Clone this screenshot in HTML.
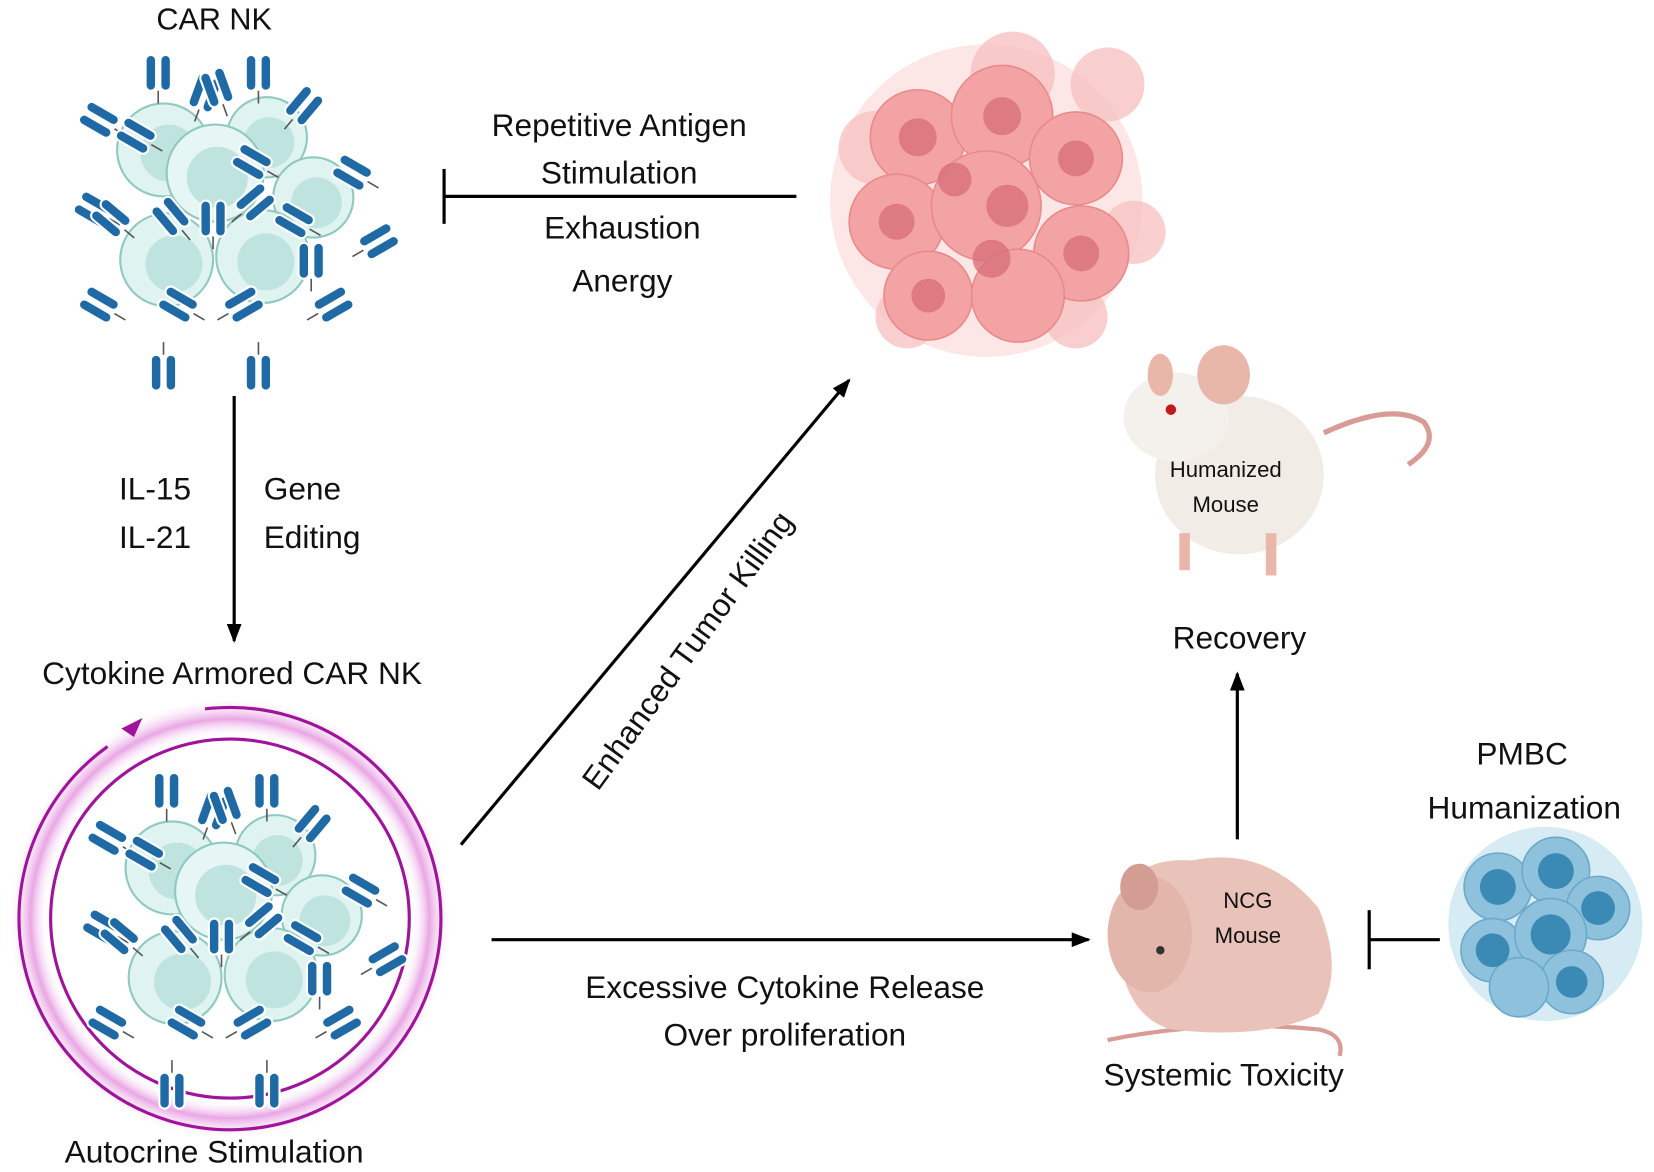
<!DOCTYPE html>
<html><head><meta charset="utf-8"><style>
html,body{margin:0;padding:0;background:#fff;}
svg{display:block}
text{font-family:"Liberation Sans",sans-serif;fill:#111;}
</style></head><body>
<svg width="1654" height="1172" viewBox="0 0 1568 1110" preserveAspectRatio="none" xmlns="http://www.w3.org/2000/svg">
<defs>
<marker id="ah" markerWidth="18" markerHeight="14" refX="16" refY="7" orient="auto" markerUnits="userSpaceOnUse" viewBox="0 0 18 14"><path d="M0,0 L18,7 L0,14 z" fill="#000"/></marker>
<radialGradient id="glow" cx="0.5" cy="0.5" r="0.5">
<stop offset="0.82" stop-color="#fff" stop-opacity="0"/>
<stop offset="0.9" stop-color="#e9a6e4"/>
<stop offset="1" stop-color="#fff" stop-opacity="0"/>
</radialGradient>
<g id="ab">
<rect x="-12" y="-30" width="10" height="34" rx="5" fill="#1f6aa5" stroke="#fff" stroke-width="2"/>
<rect x="2" y="-30" width="10" height="34" rx="5" fill="#1f6aa5" stroke="#fff" stroke-width="2"/>
<line x1="0" y1="4" x2="0" y2="16" stroke="#555" stroke-width="1.5"/>
</g>
<g id="cluster">
<circle cx="-55" cy="-48" r="44" fill="#dff3f1" stroke="#8fc9bf" stroke-width="2"/><circle cx="-50" cy="-45" r="27" fill="#bfe3de"/>
<circle cx="43" cy="-60" r="38" fill="#dff3f1" stroke="#8fc9bf" stroke-width="2"/><circle cx="45" cy="-55" r="24" fill="#bfe3de"/>
<circle cx="87" cy="-3" r="38" fill="#dff3f1" stroke="#8fc9bf" stroke-width="2"/><circle cx="90" cy="2" r="24" fill="#bfe3de"/>
<circle cx="-52" cy="56" r="44" fill="#dff3f1" stroke="#8fc9bf" stroke-width="2"/><circle cx="-45" cy="60" r="27" fill="#bfe3de"/>
<circle cx="39" cy="53" r="44" fill="#dff3f1" stroke="#8fc9bf" stroke-width="2"/><circle cx="42" cy="58" r="27" fill="#bfe3de"/>
<circle cx="-6" cy="-26" r="46" fill="#e6f6f4" stroke="#8fc9bf" stroke-width="2"/><circle cx="-4" cy="-22" r="29" fill="#bfe3de"/>
<use href="#ab" x="-60" y="-108"/><use href="#ab" x="35" y="-108"/>
<use href="#ab" transform="translate(-105,-70) rotate(-60)"/><use href="#ab" transform="translate(-70,-55) rotate(-60)"/>
<use href="#ab" transform="translate(-20,-90) rotate(20)"/><use href="#ab" transform="translate(0,-95) rotate(-20)"/>
<use href="#ab" transform="translate(70,-80) rotate(40)"/><use href="#ab" transform="translate(135,-20) rotate(-60)"/>
<use href="#ab" transform="translate(40,-30) rotate(-60)"/><use href="#ab" transform="translate(-110,15) rotate(-60)"/>
<use href="#ab" transform="translate(-95,25) rotate(-50)"/><use href="#ab" transform="translate(-40,25) rotate(-40)"/>
<use href="#ab" x="-8" y="30"/><use href="#ab" transform="translate(22,10) rotate(50)"/>
<use href="#ab" transform="translate(80,25) rotate(-60)"/><use href="#ab" transform="translate(138,45) rotate(60)"/>
<use href="#ab" x="85" y="70"/><use href="#ab" transform="translate(-105,105) rotate(-60)"/>
<use href="#ab" transform="translate(-30,105) rotate(-60)"/><use href="#ab" transform="translate(10,105) rotate(60)"/>
<use href="#ab" transform="translate(95,105) rotate(60)"/><use href="#ab" transform="translate(-55,150) rotate(180)"/>
<use href="#ab" transform="translate(35,150) rotate(180)"/>
</g>
</defs>

<text x="203" y="28" font-size="29" text-anchor="middle">CAR NK</text>
<use href="#cluster" x="210" y="190"/>

<text x="587" y="129" font-size="30" text-anchor="middle">Repetitive Antigen</text>
<text x="587" y="174" font-size="30" text-anchor="middle">Stimulation</text>
<text x="590" y="226" font-size="30" text-anchor="middle">Exhaustion</text>
<text x="590" y="276" font-size="30" text-anchor="middle">Anergy</text>
<line x1="420" y1="186" x2="755" y2="186" stroke="#000" stroke-width="3"/>
<line x1="421" y1="160" x2="421" y2="212" stroke="#000" stroke-width="3"/>

<!-- tumor -->
<g>
<circle cx="935" cy="190" r="148" fill="#fde6e6"/>
<g fill="#f7c3c3" opacity="0.8">
<circle cx="830" cy="140" r="35"/><circle cx="1050" cy="80" r="35"/><circle cx="1075" cy="220" r="30"/><circle cx="860" cy="300" r="30"/><circle cx="960" cy="70" r="40"/><circle cx="1020" cy="300" r="30"/>
</g>
<g fill="#f3a3a3" stroke="#e88a8a" stroke-width="1.5">
<circle cx="870" cy="130" r="45"/><circle cx="950" cy="110" r="48"/><circle cx="1020" cy="150" r="44"/>
<circle cx="850" cy="210" r="45"/><circle cx="935" cy="195" r="52"/><circle cx="1025" cy="240" r="45"/>
<circle cx="880" cy="280" r="42"/><circle cx="965" cy="280" r="44"/>
</g>
<g fill="#d9707a" opacity="0.8">
<circle cx="870" cy="130" r="18"/><circle cx="950" cy="110" r="18"/><circle cx="1020" cy="150" r="17"/>
<circle cx="850" cy="210" r="17"/><circle cx="955" cy="195" r="20"/><circle cx="1025" cy="240" r="17"/>
<circle cx="880" cy="280" r="16"/><circle cx="940" cy="245" r="18"/><circle cx="905" cy="170" r="16"/>
</g>
</g>

<line x1="222" y1="375" x2="222" y2="607" stroke="#000" stroke-width="3" marker-end="url(#ah)"/>
<text x="147" y="473" font-size="30" text-anchor="middle">IL-15</text>
<text x="147" y="519" font-size="30" text-anchor="middle">IL-21</text>
<text x="250" y="473" font-size="30">Gene</text>
<text x="250" y="519" font-size="30">Editing</text>

<text x="220" y="648" font-size="30" text-anchor="middle">Cytokine Armored CAR NK</text>

<!-- armored ring -->
<circle cx="218" cy="870" r="210" fill="url(#glow)"/>
<circle cx="218" cy="870" r="200" fill="none" stroke="#a0139b" stroke-width="3" stroke-dasharray="1150 100" transform="rotate(-95 218 870)"/>
<circle cx="218" cy="870" r="170" fill="none" stroke="#a0139b" stroke-width="3"/>
<path d="M115,690 l20,-10 l-8,18 z" fill="#a0139b"/>
<use href="#cluster" x="218" y="870"/>
<text x="203" y="1101" font-size="30" text-anchor="middle">Autocrine Stimulation</text>

<line x1="437" y1="800" x2="805" y2="360" stroke="#000" stroke-width="3" marker-end="url(#ah)"/>
<text x="0" y="0" font-size="30" text-anchor="middle" transform="translate(660,622) rotate(-54)">Enhanced Tumor Killing</text>

<line x1="466" y1="890" x2="1032" y2="890" stroke="#000" stroke-width="3" marker-end="url(#ah)"/>
<text x="744" y="945" font-size="30" text-anchor="middle">Excessive Cytokine Release</text>
<text x="744" y="990" font-size="30" text-anchor="middle">Over proliferation</text>

<!-- NCG mouse -->
<g>
<path d="M1050,985 Q1150,965 1250,975 Q1275,980 1270,1000" fill="none" stroke="#d99b95" stroke-width="4"/>
<path d="M1060,880 Q1060,810 1130,815 Q1200,800 1250,860 Q1275,920 1250,960 Q1200,985 1110,975 Q1060,960 1060,880 z" fill="#e9c3b9"/>
<ellipse cx="1090" cy="885" rx="40" ry="55" fill="#e2b6ab"/>
<ellipse cx="1080" cy="840" rx="18" ry="22" fill="#d49d93"/>
<circle cx="1100" cy="900" r="4" fill="#333"/>
<text x="1183" y="860" font-size="21" text-anchor="middle">NCG</text>
<text x="1183" y="893" font-size="21" text-anchor="middle">Mouse</text>
</g>
<text x="1160" y="1028" font-size="30" text-anchor="middle">Systemic Toxicity</text>

<line x1="1173" y1="795" x2="1173" y2="638" stroke="#000" stroke-width="3" marker-end="url(#ah)"/>
<text x="1175" y="614" font-size="30" text-anchor="middle">Recovery</text>

<!-- humanized mouse -->
<g>
<path d="M1255,410 Q1320,380 1350,400 Q1365,420 1335,440" fill="none" stroke="#d99b95" stroke-width="5"/>
<ellipse cx="1175" cy="450" rx="80" ry="75" fill="#f1ece6"/>
<ellipse cx="1115" cy="395" rx="50" ry="42" fill="#f4f0eb"/>
<ellipse cx="1160" cy="355" rx="25" ry="28" fill="#e9b6aa"/>
<ellipse cx="1100" cy="355" rx="12" ry="20" fill="#e9b6aa"/>
<circle cx="1110" cy="388" r="5" fill="#c21a1a"/>
<rect x="1118" y="505" width="10" height="35" fill="#e9b6aa"/><rect x="1200" y="505" width="10" height="40" fill="#e9b6aa"/>
<text x="1162" y="452" font-size="21" text-anchor="middle">Humanized</text>
<text x="1162" y="485" font-size="21" text-anchor="middle">Mouse</text>
</g>

<text x="1443" y="724" font-size="30" text-anchor="middle">PMBC</text>
<text x="1445" y="775" font-size="30" text-anchor="middle">Humanization</text>
<line x1="1365" y1="890" x2="1298" y2="890" stroke="#000" stroke-width="3"/>
<line x1="1298" y1="862" x2="1298" y2="918" stroke="#000" stroke-width="3"/>

<g>
<circle cx="1465" cy="875" r="92" fill="#d7ebf4"/>
<g fill="#8ec2dc" stroke="#6aa9c9" stroke-width="1.5">
<circle cx="1420" cy="840" r="32"/><circle cx="1475" cy="825" r="32"/><circle cx="1515" cy="860" r="30"/>
<circle cx="1415" cy="900" r="30"/><circle cx="1470" cy="885" r="34"/><circle cx="1490" cy="930" r="30"/><circle cx="1440" cy="935" r="28"/>
</g>
<g fill="#3a8ab5">
<circle cx="1420" cy="840" r="17"/><circle cx="1475" cy="825" r="17"/><circle cx="1515" cy="860" r="16"/>
<circle cx="1415" cy="900" r="16"/><circle cx="1470" cy="885" r="19"/><circle cx="1490" cy="930" r="15"/>
</g>
</g>
</svg>
</body></html>
